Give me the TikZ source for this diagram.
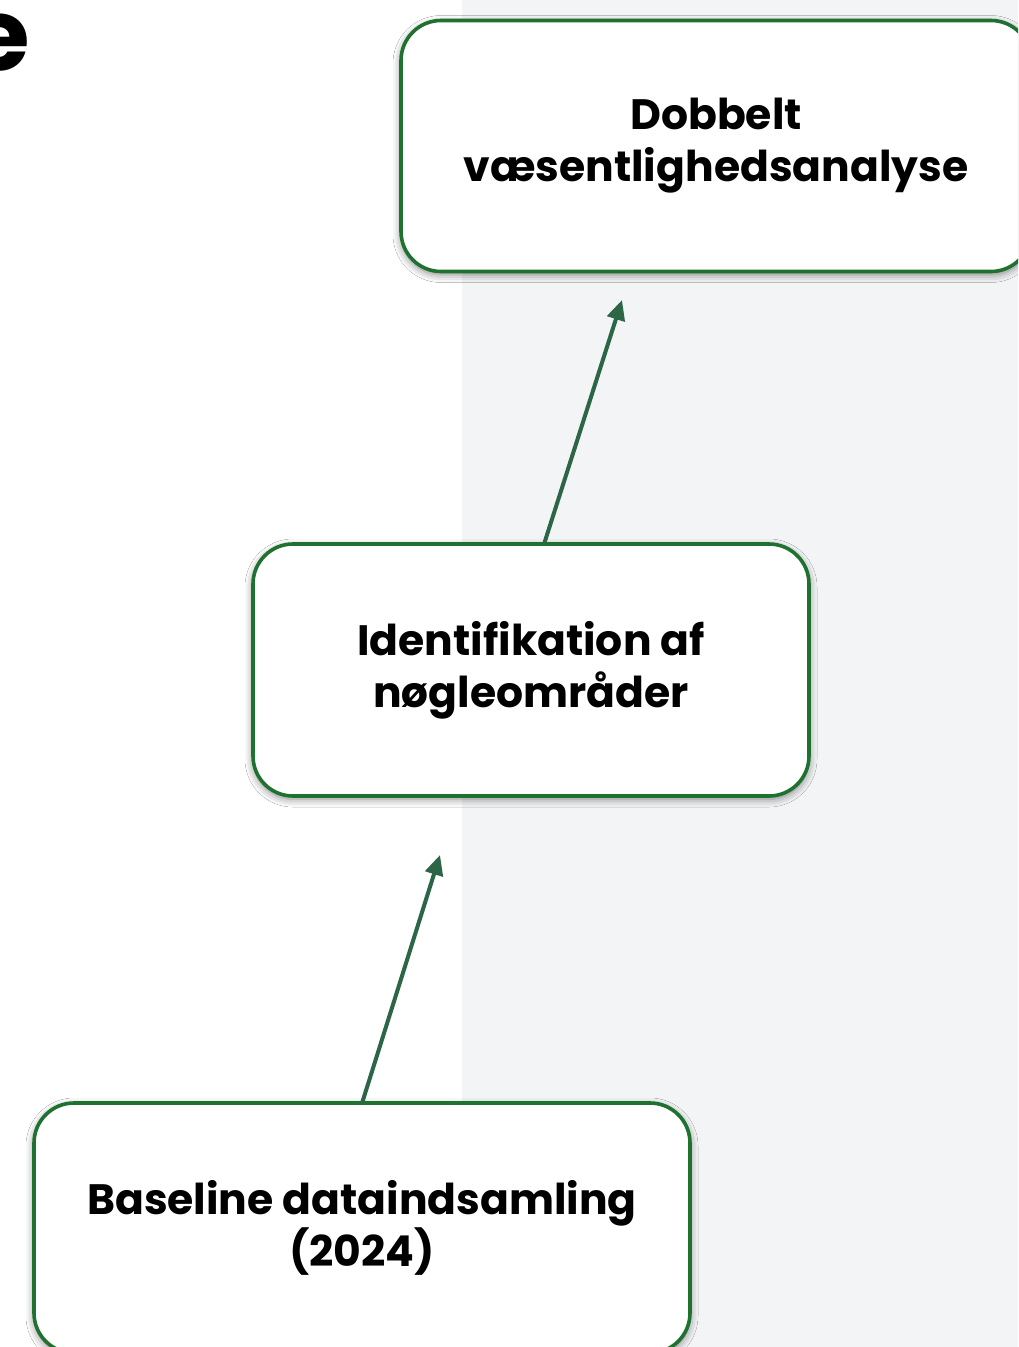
\documentclass[tikz,border=0pt]{standalone}
\usepackage{fontspec}
\setmainfont{Poppins}
\usetikzlibrary{arrows.meta,shadows.blur,calc}
\definecolor{bggray}{HTML}{F3F4F6}
\definecolor{boxgreen}{HTML}{1F7130}
\definecolor{arrowgreen}{HTML}{2D6647}
\tikzset{
  stagebox/.style={draw=boxgreen, line width=3.6pt, fill=white, rounded corners=40pt,
    align=center, font=\fontsize{42.5}{52}\selectfont\bfseries, inner sep=0pt,
    blur shadow={shadow xshift=0pt, shadow yshift=-3pt, shadow blur radius=8pt, shadow opacity=50}},
  flowarrow/.style={draw=arrowgreen, line width=4pt, -{Triangle[length=20pt,width=18pt]}}
}
\begin{document}
\begin{tikzpicture}[x=1pt,y=-1pt]
\useasboundingbox (0,0) rectangle (1018,1347);
\clip (0,0) rectangle (1018,1347);
\fill[white] (0,0) rectangle (462,1347);
\fill[bggray] (462,0) rectangle (1018,1347);
\node[anchor=base east, font=\fontsize{100}{100}\selectfont\bfseries, inner sep=0pt] (title) at (30,70) {e};
\node[stagebox, minimum width=630pt, minimum height=251pt] (box1) at (716,146) {Dobbelt\\væsentlighedsanalyse};
\node[stagebox, minimum width=556pt, minimum height=252pt] (box2) at (531,670) {Identifikation af\\nøgleområder};
\node[stagebox, minimum width=656pt, minimum height=250pt] (box3) at (362,1228) {Baseline dataindsamling\\(2024)};
\coordinate (a1end) at (440,855);
\coordinate (a2end) at (622,300);
\draw[flowarrow] ($(box3.north)+(0,2)$) -- (a1end);
\draw[flowarrow] ($(box2.north)+(13,2)$) -- (a2end);
\end{tikzpicture}
\end{document}
